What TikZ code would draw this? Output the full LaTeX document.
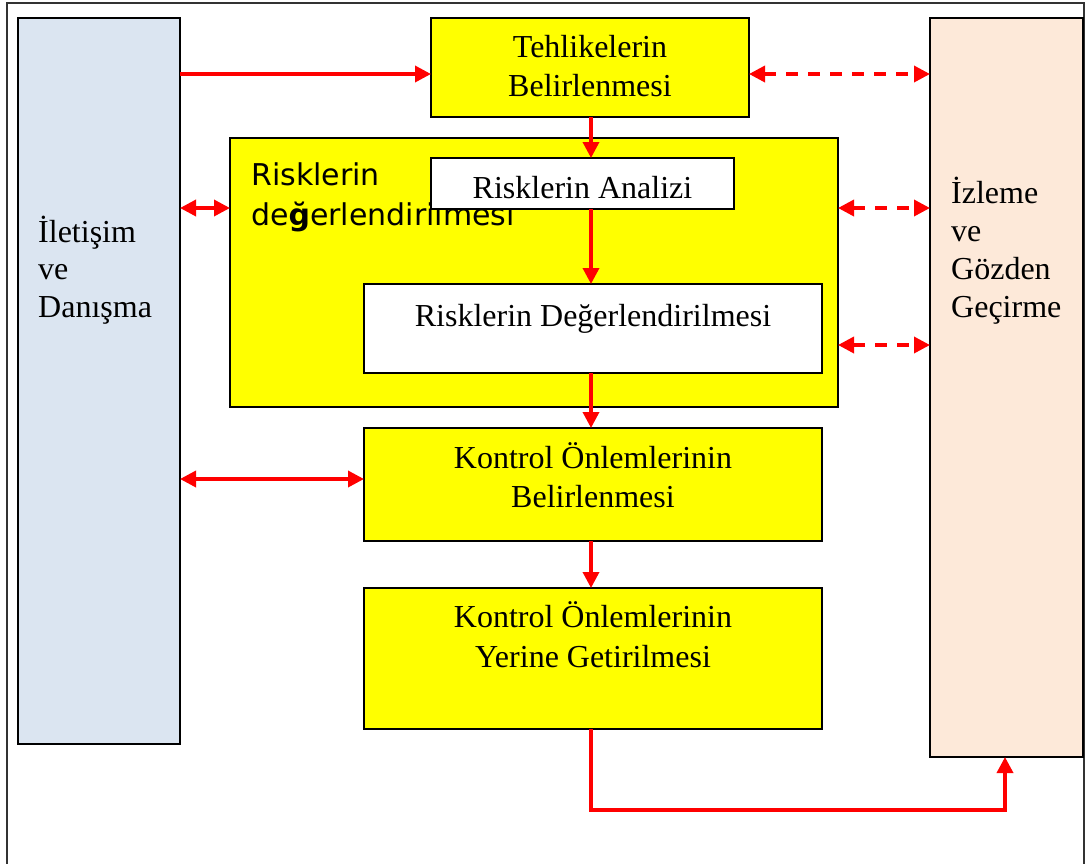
\documentclass[tikz,border=0pt]{standalone}
\usepackage{fontspec}
\setmainfont{Liberation Serif}
\newfontfamily\labelfont{DejaVu Sans}
\usetikzlibrary{arrows.meta}
\definecolor{boxyellow}{HTML}{FFFF00}
\definecolor{leftblue}{HTML}{DBE5F1}
\definecolor{rightpeach}{HTML}{FDE9D9}
\definecolor{arrowred}{HTML}{FF0000}
\begin{document}
\begin{tikzpicture}[x=1pt,y=-1pt,
  box/.style={draw=black, line width=1.6pt, inner sep=0pt, outer sep=0pt, rectangle},
  ybox/.style={box, fill=boxyellow},
  wbox/.style={box, fill=white},
  txt/.style={inner sep=0pt, font=\fontsize{32}{39}\selectfont},
  lbl/.style={inner sep=0pt, font=\labelfont\fontsize{30}{40}\selectfont},
  tip/.tip={Triangle[length=16pt,width=16pt]},
  flow/.style={draw=arrowred, line width=3.5pt, -tip},
  both/.style={draw=arrowred, line width=3.5pt, tip-tip},
  dboth/.style={both, dash pattern=on 12pt off 10pt},
]
\useasboundingbox (0,0) rectangle (1088,863);
\draw[line width=1.6pt, black!80] (7,870) -- (7,3) -- (1084,3) -- (1084,870);

% boxes
\node[box, fill=leftblue, minimum width=162pt, minimum height=726pt] (ilet) at (99,381) {};
\node[box, fill=rightpeach, minimum width=153pt, minimum height=739pt] (izl) at (1006.5,387.5) {};
\node[ybox, minimum width=318pt, minimum height=99pt] (tehl) at (590,67.5) {};
\node[ybox, minimum width=608pt, minimum height=269pt] (big) at (534,272.5) {};
\node[lbl, anchor=base west] (bigl1) at (251,185) {Risklerin};
\node[lbl, anchor=base west] (bigl2) at (251,225) {de{\bfseries ğ}erlendirilmesi};
\node[wbox, line width=1.2pt, minimum width=303pt, minimum height=51pt] (analiz) at (582.5,183.5) {};
\node[wbox, minimum width=458pt, minimum height=89pt] (degr) at (593,328.5) {};
\node[ybox, minimum width=458pt, minimum height=113pt] (kbel) at (593,484.5) {};
\node[ybox, minimum width=458pt, minimum height=141pt] (kyer) at (593,658.5) {};

% texts
\node[txt, anchor=base west] (ilt1) at (38,242) {İletişim};
\node[txt, anchor=base west] (ilt2) at (38,279.5) {ve};
\node[txt, anchor=base west] (ilt3) at (38,317) {Danışma};
\node[txt, anchor=base west] (izt1) at (951,203) {İzleme};
\node[txt, anchor=base west] (izt2) at (951,241) {ve};
\node[txt, anchor=base west] (izt3) at (951,279) {Gözden};
\node[txt, anchor=base west] (izt4) at (951,317) {Geçirme};
\node[txt, anchor=base] (tt1) at (590,57) {Tehlikelerin};
\node[txt, anchor=base] (tt2) at (590,96) {Belirlenmesi};
\node[txt, anchor=base] (at1) at (582.5,198) {Risklerin Analizi};
\node[txt, anchor=base] (dt1) at (593,326) {Risklerin Değerlendirilmesi};
\node[txt, anchor=base] (kb1) at (593,468) {Kontrol Önlemlerinin};
\node[txt, anchor=base] (kb2) at (593,507) {Belirlenmesi};
\node[txt, anchor=base] (ky1) at (593,627) {Kontrol Önlemlerinin};
\node[txt, anchor=base] (ky2) at (593,667) {Yerine Getirilmesi};

% connectors
\draw[flow] (ilet.east |- 0,74) -- (tehl.west |- 0,74);
\draw[dboth] (tehl.east |- 0,74) -- (izl.west |- 0,74);
\draw[flow] (tehl.south -| 591,0) -- (analiz.north -| 591,0);
\draw[both] (ilet.east |- 0,208) -- (big.west |- 0,208);
\draw[dboth] (big.east |- 0,208) -- (izl.west |- 0,208);
\draw[flow] (analiz.south -| 591,0) -- (degr.north -| 591,0);
\draw[dboth] (big.east |- 0,345) -- (izl.west |- 0,345);
\draw[flow] (degr.south -| 591,0) -- (kbel.north -| 591,0);
\draw[both] (ilet.east |- 0,479) -- (kbel.west |- 0,479);
\draw[flow] (kbel.south -| 591,0) -- (kyer.north -| 591,0);
\draw[flow] (kyer.south -| 591,0) -- (591,810) -| (izl.south -| 1005,0);
\end{tikzpicture}
\end{document}
